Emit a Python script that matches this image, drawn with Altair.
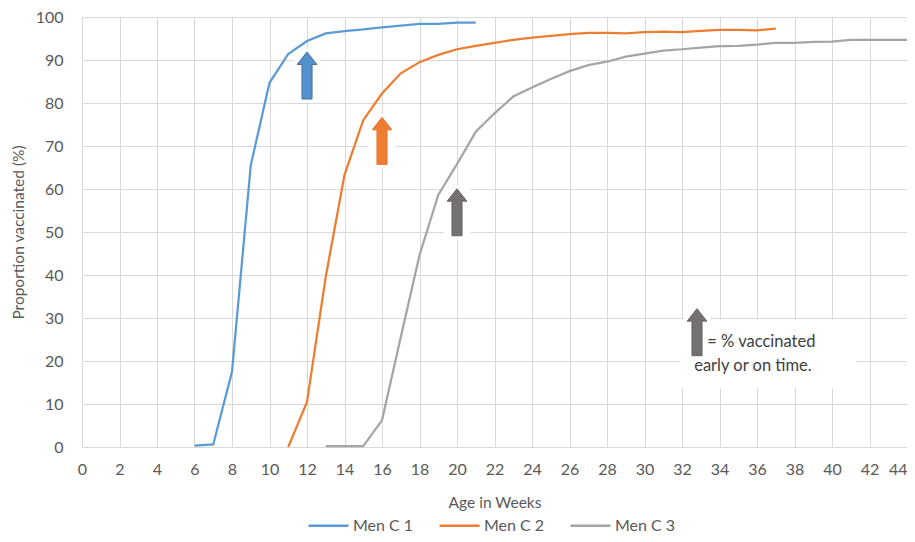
import altair as alt
import pandas as pd

# ---- data ----
weeks_1 = list(range(6, 22))
men_c_1 = [0.3, 0.6, 17.5, 65.5, 84.7, 91.4, 94.4, 96.2, 96.7, 97.1, 97.6, 98.0,
           98.4, 98.4, 98.7, 98.7]

weeks_2 = list(range(11, 38))
men_c_2 = [0.0, 10.5, 39.6, 63.3, 76.0, 82.2, 86.9, 89.5, 91.2, 92.5, 93.3, 94.0,
           94.7, 95.2, 95.6, 96.0, 96.3, 96.3, 96.2, 96.5, 96.6, 96.5, 96.8, 97.0,
           97.0, 96.9, 97.3]

weeks_3 = list(range(13, 45))
men_c_3 = [0.2, 0.2, 0.2, 6.2, 25.5, 44.6, 58.6, 65.8, 73.3, 77.6, 81.5, 83.6,
           85.6, 87.4, 88.8, 89.6, 90.8, 91.5, 92.2, 92.5, 92.9, 93.2, 93.3, 93.6,
           94.0, 94.0, 94.2, 94.3, 94.7, 94.7, 94.7, 94.7]

series_names = ["Men C 1", "Men C 2", "Men C 3"]
series_colors = ["#5B9BD5", "#ED7D31", "#A5A5A5"]

# arrows (week, middle of arrow in %)
arrow_weeks = [12, 16, 20, 32.8]
arrow_mid = [86.4, 71.2, 54.6, 26.7]
arrow_fill = ["#5690CC", "#ED7D31", "#767171", "#767171"]
arrow_edge = ["#41719C", "#E8772B", "#6A6565", "#6A6565"]

# note text
note_lines = ["= % vaccinated", "early or on time."]
note_x = [33.35, 32.65]
note_y = [24.5, 18.8]
note_box_x = [31.9, 41.3]
note_box_y = [13.7, 29.6]

x_ticks = list(range(0, 45, 2))
y_ticks = list(range(0, 101, 10))

# ---- tables ----
rows = []
for name, wk, vals in zip(series_names, [weeks_1, weeks_2, weeks_3], [men_c_1, men_c_2, men_c_3]):
    for w, v in zip(wk, vals):
        rows.append({"series": name, "week": w, "pct": v})
df = pd.DataFrame(rows)

arrows = pd.DataFrame({"week": arrow_weeks, "pct": arrow_mid,
                       "fill": arrow_fill, "edge": arrow_edge})
notes = pd.DataFrame({"text": note_lines, "week": note_x, "pct": note_y})
box = pd.DataFrame({"week": [note_box_x[0]], "x2": [note_box_x[1]],
                    "pct": [note_box_y[0]], "y2": [note_box_y[1]]})

FONT = "Lato"
GRID = "#D9D9D9"
TXT = "#595959"

xscale = alt.Scale(domain=[0, 44], nice=False, zero=False)
yscale = alt.Scale(domain=[0, 100], nice=False)

x_axis = alt.Axis(values=x_ticks, title="Age  in Weeks", grid=True,
                  gridColor=GRID, domain=False, ticks=False, tickSize=0,
                  labelOverlap=False, labelFlush=False,
                  labelAlign=alt.condition(alt.datum.value >= 44,
                                           alt.value("right"), alt.value("center")),
                  labelPadding=14, labelFontSize=16, labelColor=TXT,
                  labelFont=FONT, titleFont=FONT, titleFontSize=15.5,
                  titleFontWeight="normal", titleColor=TXT,
                  titleY=55, titleBaseline="middle")
y_axis = alt.Axis(values=y_ticks, title="Proportion vaccinated (%)", grid=True,
                  gridColor=GRID, domain=False, ticks=False, tickSize=0,
                  labelOverlap=False, labelFlush=False,
                  labelPadding=19, labelFontSize=16, labelColor=TXT,
                  labelFont=FONT, titleFont=FONT, titleFontSize=15.5,
                  titleFontWeight="normal", titleColor=TXT,
                  titleX=-64, titleY=215, titleAngle=270,
                  titleAlign="center", titleBaseline="middle")

X = alt.X("week:Q", scale=xscale, axis=x_axis)
Y = alt.Y("pct:Q", scale=yscale, axis=y_axis)

ARROW = "M-0.21,0.98L0.21,0.98L0.21,-0.46L0.41,-0.46L0,-0.98L-0.41,-0.46L-0.21,-0.46Z"
BOX = "M-0.56,-1.12L0.56,-1.12L0.56,1.12L-0.56,1.12Z"

lines = alt.Chart(df).mark_line(strokeWidth=2.25).encode(
    x=X, y=Y,
    color=alt.Color("series:N",
                    scale=alt.Scale(domain=series_names, range=series_colors),
                    legend=alt.Legend(title=None, orient="none", direction="horizontal",
                                      legendX=225, legendY=487, symbolType="stroke",
                                      symbolSize=1600, symbolStrokeWidth=2.5,
                                      labelFontSize=16, labelFont=FONT, labelColor=TXT,
                                      columnPadding=20, labelOffset=3, padding=0,
                                      offset=0)),
    order="week:Q")

box_layer = alt.Chart(box).mark_rect(color="white").encode(
    x=X, x2="x2:Q", y=Y, y2="y2:Q")

arrow_bg = alt.Chart(arrows).mark_point(shape=BOX, filled=True, fill="white",
                                        strokeWidth=0, opacity=1, size=2304).encode(
    x=X, y=Y)

arrow_layer = alt.Chart(arrows).mark_point(shape=ARROW, filled=True, strokeWidth=1,
                                           opacity=1, size=2304).encode(
    x=X, y=Y, fill=alt.Fill("fill:N", scale=None),
    stroke=alt.Stroke("edge:N", scale=None))

note_layer = alt.Chart(notes).mark_text(align="left", baseline="middle", font=FONT,
                                        fontSize=16.5, color="#404040").encode(
    x=X, y=Y, text="text:N")

chart = alt.layer(box_layer, arrow_bg, lines, arrow_layer, note_layer).properties(
    width=825, height=430,
    padding={"left": 74, "top": 9, "right": 0, "bottom": 87},
    autosize=alt.AutoSizeParams(type="none"),
).configure_view(stroke=None).configure(background="white")

chart.save("out.html", embed_options={"renderer": "svg", "actions": False})
